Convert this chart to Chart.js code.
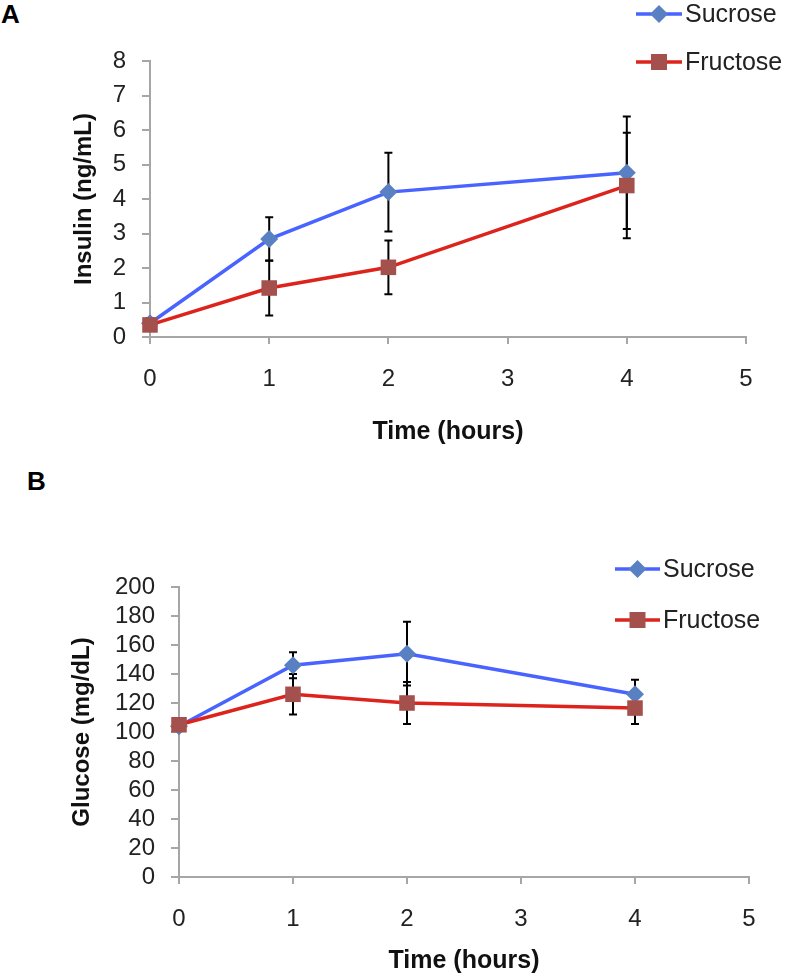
<!DOCTYPE html>
<html>
<head>
<meta charset="utf-8">
<script src="https://cdn.jsdelivr.net/npm/chart.js@4"></script>
<style>
  body { margin: 0; background: #fff; }
  #wrap { position: relative; width: 787px; height: 976px; }
  canvas { position: absolute; left: 0; }
  .panel { position: absolute; font: bold 26px "Liberation Sans", Arial, sans-serif; color: #000; }
</style>
</head>
<body>
<div id="wrap">
  <div class="panel" style="left:1px; top:-1px;">A</div>
  <div class="panel" style="left:27px; top:466px;">B</div>
  <canvas id="chartA" width="787" height="470" style="top:0px"></canvas>
  <canvas id="chartB" width="787" height="506" style="top:470px"></canvas>
</div>
<script>
// time points (hours)
const times = [0, 1, 2, 4];

// panel A - insulin (ng/mL)
const insulinSucrose = [0.4, 2.84, 4.2, 4.76];
const insulinSucroseErr = [0.15, 0.63, 1.14, 1.63];
const insulinFructose = [0.35, 1.42, 2.02, 4.39];
const insulinFructoseErr = [0.1, 0.8, 0.78, 1.53];

// panel B - glucose (mg/dL)
const glucoseSucrose = [104, 146, 154, 126];
const glucoseSucroseErr = [1, 9, 22, 10];
const glucoseFructose = [105, 126, 120, 116.5];
const glucoseFructoseErr = [1, 14, 14.5, 11];

const seriesNames = ["Sucrose", "Fructose"];

const FONT = '"Liberation Sans", Arial, sans-serif';
const blueLine = "#4863ff";
const blueMarker = "#5a80c4";
const redLine = "#dc231c";
const redMarker = "#a4514e";
const axisGray = "#a6a6a6";

const toPoints = (ys) => times.map((t, i) => ({ x: t, y: ys[i] }));

// error bars drawn under the markers
const errorBarPlugin = {
  id: "errorBars",
  beforeDatasetsDraw(chart, args, opts) {
    const ctx = chart.ctx;
    const xs = chart.scales.x;
    const ys = chart.scales.y;
    ctx.save();
    ctx.strokeStyle = "#000";
    ctx.lineWidth = 2;
    chart.data.datasets.forEach((ds) => {
      ds.data.forEach((p, i) => {
        const e = ds.errors[i];
        const px = xs.getPixelForValue(p.x);
        const top = ys.getPixelForValue(p.y + e);
        const bot = ys.getPixelForValue(p.y - e);
        ctx.beginPath();
        ctx.moveTo(px, top); ctx.lineTo(px, bot);
        ctx.moveTo(px - 4, top); ctx.lineTo(px + 4, top);
        ctx.moveTo(px - 4, bot); ctx.lineTo(px + 4, bot);
        ctx.stroke();
      });
    });
    ctx.restore();
  }
};

// legend at a fixed spot like the original figure
const legendPlugin = {
  id: "fixedLegend",
  afterDraw(chart, args, opts) {
    const ctx = chart.ctx;
    ctx.save();
    chart.data.datasets.forEach((ds, i) => {
      const y = opts.rows[i];
      ctx.strokeStyle = ds.borderColor;
      ctx.lineWidth = 3.5;
      ctx.beginPath();
      ctx.moveTo(opts.x0, y); ctx.lineTo(opts.x1, y);
      ctx.stroke();
      ctx.fillStyle = ds.pointBackgroundColor;
      ctx.beginPath();
      const mx = (opts.x0 + opts.x1) / 2;
      if (ds.pointStyle === "rectRot") {
        ctx.moveTo(mx, y - 9); ctx.lineTo(mx + 9, y); ctx.lineTo(mx, y + 9); ctx.lineTo(mx - 9, y);
        ctx.closePath();
      } else {
        ctx.rect(mx - 8, y - 8, 16, 16);
      }
      ctx.fill();
      ctx.fillStyle = "#222";
      ctx.font = "25px " + FONT;
      ctx.textBaseline = "middle";
      ctx.fillText(ds.label, opts.x1 + 3, y + 1);
    });
    ctx.restore();
  }
};

const makeDataset = (i, ys, errs) => ({
  label: seriesNames[i],
  data: toPoints(ys),
  errors: errs,
  order: i === 0 ? 1 : 0, // fructose drawn on top, as in the original
  clip: false,
  borderColor: i === 0 ? blueLine : redLine,
  borderWidth: 3.5,
  pointStyle: i === 0 ? "rectRot" : "rect",
  pointRadius: i === 0 ? 9 : 11,
  pointBackgroundColor: i === 0 ? blueMarker : redMarker,
  pointBorderWidth: 0,
  tension: 0
});

const makeChart = (id, cfg) => {
  return new Chart(document.getElementById(id), {
    type: "line",
    data: { datasets: cfg.datasets },
    plugins: [errorBarPlugin, legendPlugin],
    options: {
      responsive: false,
      animation: false,
      layout: { padding: cfg.padding },
      plugins: {
        legend: { display: false },
        tooltip: { enabled: false },
        fixedLegend: cfg.legend
      },
      scales: {
        x: {
          type: "linear",
          min: 0, max: 5,
          afterFit: (s) => { s.height = cfg.xHeight; },
          ticks: { stepSize: 1, autoSkip: false, color: "#222", padding: 21, font: { family: FONT, size: 24 } },
          grid: { drawOnChartArea: false, drawTicks: true, tickLength: 7, color: axisGray, lineWidth: 2 },
          border: { color: axisGray, width: 2 },
          title: { display: true, text: "Time (hours)", color: "#111", padding: 0,
                   font: { family: FONT, size: 25, weight: "bold" } }
        },
        y: {
          min: 0, max: cfg.yMax,
          afterFit: (s) => { s.width = cfg.yWidth; },
          ticks: { stepSize: cfg.yStep, autoSkip: false, color: "#222", padding: 16, font: { family: FONT, size: 24 } },
          grid: { drawOnChartArea: false, drawTicks: true, tickLength: 8, color: axisGray, lineWidth: 2 },
          border: { color: axisGray, width: 2 },
          title: { display: true, text: cfg.yTitle, color: "#111", padding: 0,
                   font: { family: FONT, size: 24, weight: "bold" } }
        }
      }
    }
  });
};

makeChart("chartA", {
  datasets: [makeDataset(0, insulinSucrose, insulinSucroseErr), makeDataset(1, insulinFructose, insulinFructoseErr)],
  padding: { left: 70, right: 41, top: 61, bottom: 23 },
  xHeight: 110,
  yWidth: 80,
  yMax: 8,
  yStep: 1,
  yTitle: "Insulin (ng/mL)",
  legend: { x0: 636, x1: 682, rows: [14, 62] }
});

makeChart("chartB", {
  datasets: [makeDataset(0, glucoseSucrose, glucoseSucroseErr), makeDataset(1, glucoseFructose, glucoseFructoseErr)],
  padding: { left: 68, right: 38, top: 117, bottom: 0 },
  xHeight: 99,
  yWidth: 111,
  yMax: 200,
  yStep: 20,
  yTitle: "Glucose (mg/dL)",
  legend: { x0: 615, x1: 660, rows: [99, 150] }
});
</script>
</body>
</html>
